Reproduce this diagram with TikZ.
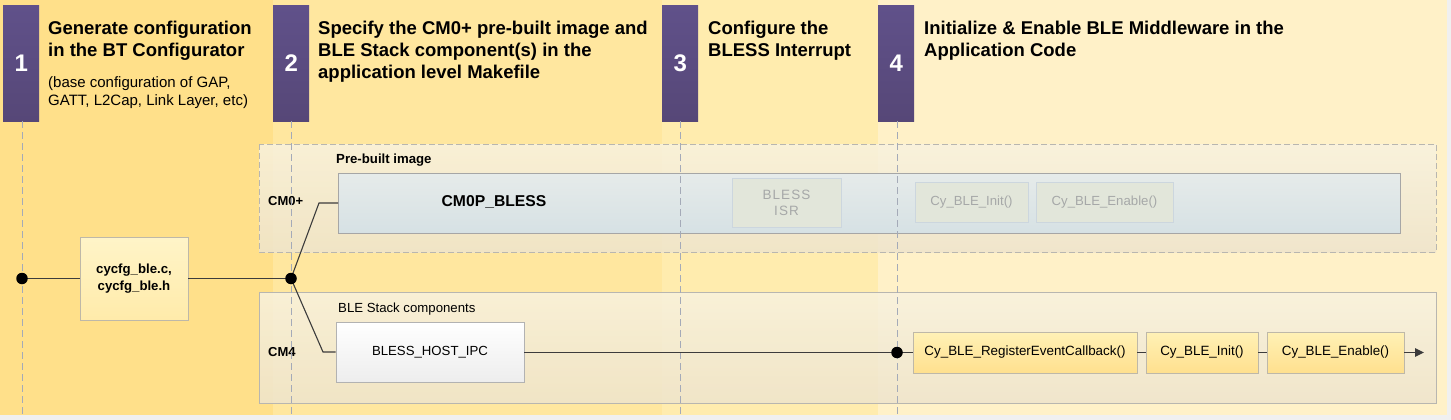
\documentclass[tikz,border=0pt]{standalone}
\usepackage{fontspec}
\setmainfont{Liberation Sans}
\usetikzlibrary{arrows.meta}
\definecolor{colA}{HTML}{FFE08A}
\definecolor{colB}{HTML}{FFE79F}
\definecolor{colC}{HTML}{FFECAE}
\definecolor{colD}{HTML}{FFF1C8}
\definecolor{outer}{HTML}{F0F0F0}
\definecolor{purpT}{HTML}{60518A}
\definecolor{purpB}{HTML}{564777}
\definecolor{gridc}{HTML}{A4AAB8}
\definecolor{linec}{HTML}{3C3C3C}
\definecolor{boxb}{HTML}{B8B6B0}
\definecolor{fadet}{HTML}{A6A8A8}
\definecolor{blT}{HTML}{E6EBEA}
\definecolor{blB}{HTML}{D6E1E4}
\definecolor{fb}{HTML}{E2E6DA}
\definecolor{fd}{HTML}{CCD6DE}
\definecolor{yT}{HTML}{FFF4C8}
\definecolor{yB}{HTML}{FFEBAA}
\definecolor{bb}{HTML}{BEB8A8}
\definecolor{gT}{HTML}{FFF1B6}
\definecolor{gB}{HTML}{FFE08E}
\definecolor{cT}{HTML}{F8F2DF}
\definecolor{cB}{HTML}{EEE4CC}
\begin{document}
\begin{tikzpicture}[x=1pt,y=-1pt,
  numbox/.style={minimum width=36pt,minimum height=116pt,inner sep=0pt,anchor=north west,
    top color=purpT,bottom color=purpB,draw=none,text=white,font=\fontsize{24}{24}\selectfont\bfseries},
  title/.style={font=\fontsize{18.5}{22}\selectfont\bfseries,align=left,anchor=north west,inner sep=0pt},
  subt/.style={font=\fontsize{15}{18}\selectfont,align=left,anchor=north west,inner sep=0pt},
  gridline/.style={draw=gridc,line width=0.9pt,dash pattern=on 7pt off 4pt},
  container/.style={draw=boxb,line width=0.9pt,top color=cT,bottom color=cB,fill opacity=0.85},
  lbl/.style={font=\fontsize{13.2}{15}\selectfont,anchor=west,inner sep=0pt},
  blbl/.style={font=\fontsize{13}{15}\selectfont\bfseries,anchor=west,inner sep=0pt},
  fbox/.style={draw=fd,line width=0.9pt,fill=fb,text=fadet,font=\fontsize{13.2}{16}\selectfont,inner sep=0pt,align=center},
  ybox/.style={draw=bb,line width=0.9pt,top color=gT,bottom color=gB,font=\fontsize{13.4}{16}\selectfont,inner sep=0pt,minimum height=41pt},
  conn/.style={draw=linec,line width=1.1pt},
  dot/.style={circle,fill=black,inner sep=0pt,minimum size=11.5pt}
]
\useasboundingbox (0,0) rectangle (1451,420);
% background columns
\fill[outer] (0,0) rectangle (1451,420);
\fill[colA] (0,0) rectangle (273,415);
\fill[colB] (273,0) rectangle (662,415);
\fill[colC] (662,0) rectangle (878,415);
\fill[colD] (878,0) rectangle (1447,415);
% number boxes
\node[numbox] (n1) at (3,5) {1};
\node[numbox] (n2) at (273,5) {2};
\node[numbox] (n3) at (662,5) {3};
\node[numbox] (n4) at (878,5) {4};
% titles
\node[title] (t1) at (48,20.5) {Generate configuration\\in the BT Configurator};
\node[subt] (s1) at (48,76.5) {(base configuration of GAP,\\GATT, L2Cap, Link Layer, etc)};
\node[title] (t2) at (318,20.5) {Specify the CM0+ pre-built image and\\BLE Stack component(s) in the\\application level Makefile};
\node[title] (t3) at (708,20.5) {Configure the\\BLESS Interrupt};
\node[title] (t4) at (924,20.5) {Initialize \& Enable BLE Middleware in the\\Application Code};
% containers
\path[container,dash pattern=on 6pt off 3pt] (259,144) rectangle (1436,252);
\path[container] (259,292) rectangle (1436,403);
\node[blbl,font=\fontsize{13.2}{15}\selectfont\bfseries] (pbl) at (336,160) {Pre-built image};
\node[lbl] (bsl) at (338,309.5) {BLE Stack components};
\node[blbl] (cm0l) at (268,201) {CM0+};
\node[blbl] (cm4l) at (268,352) {CM4};
% CM0P box
\node[draw=gray!70,line width=0.9pt,top color=blT,bottom color=blB,
  minimum width=1062pt,minimum height=60pt,inner sep=0pt,anchor=north west] (cm0p) at (338,173) {};
\node[font=\fontsize{15.7}{18}\selectfont\bfseries,inner sep=0pt] (cm0pt) at (494,202) {CM0P\_BLESS};
\node[fbox,minimum width=109pt,minimum height=49pt,font=\fontsize{13.5}{16}\selectfont\addfontfeatures{LetterSpace=8}] (isr) at (786.5,202.5) {BLESS\\ISR};
\node[fbox,minimum width=113pt,minimum height=40pt] (fi) at (971.5,202) {Cy\_BLE\_Init()};
\node[fbox,minimum width=137pt,minimum height=40pt] (fe) at (1104.5,202) {Cy\_BLE\_Enable()};
% grid lines
\draw[gridline] (n1.south) ++(1,0) -- ++(0,293);
\draw[gridline] (n2.south) ++(0,0) -- ++(0,293);
\draw[gridline] (n3.south) ++(0,0) -- ++(0,293);
\draw[gridline] (n4.south) ++(1,0) -- ++(0,293);
% boxes
\node[draw=bb,line width=0.9pt,top color=yT,bottom color=yB,minimum width=108pt,minimum height=83pt,
  inner sep=0pt,align=center,font=\fontsize{13.2}{17}\selectfont\bfseries] (cyc) at (134,278.5) {cycfg\_ble.c,\\cycfg\_ble.h};
\node[draw=gray!60,line width=0.9pt,top color=white,bottom color=black!7,minimum width=188pt,minimum height=60pt,
  inner sep=0pt,font=\fontsize{13.2}{16}\selectfont] (ipc) at (430,352) {BLESS\_HOST\_IPC};
\node[ybox,minimum width=224pt] (reg) at (1025,352.5) {Cy\_BLE\_RegisterEventCallback()};
\node[ybox,minimum width=112pt] (ini) at (1202,352.5) {Cy\_BLE\_Init()};
\node[ybox,minimum width=137pt] (ena) at (1335.5,352.5) {Cy\_BLE\_Enable()};
% coordinates
\coordinate (d1) at (22,278.5);
\coordinate (d2) at (291,278.5);
\coordinate (d3) at (897,352.5);
\coordinate (k1) at (319,203);
\coordinate (k2) at (323,352);
\coordinate (aend) at (1424,352.5);
% connectors
\draw[conn] (d1) -- (cyc.west);
\draw[conn] (cyc.east) -- (d2);
\draw[conn] (d2) -- (k1) -- (k1 -| cm0p.west);
\draw[conn] (d2) -- (k2) -- (k2 -| ipc.west);
\draw[conn] (ipc.east |- d3) -- (d3) -- (reg.west);
\draw[conn] (reg.east) -- (ini.west);
\draw[conn] (ini.east) -- (ena.west);
\draw[conn,-{Triangle[length=9pt,width=8.5pt]}] (ena.east) -- (aend);
% dots
\node[dot] (p1) at (d1) {};
\node[dot] (p2) at (d2) {};
\node[dot] (p3) at (d3) {};
\end{tikzpicture}
\end{document}
